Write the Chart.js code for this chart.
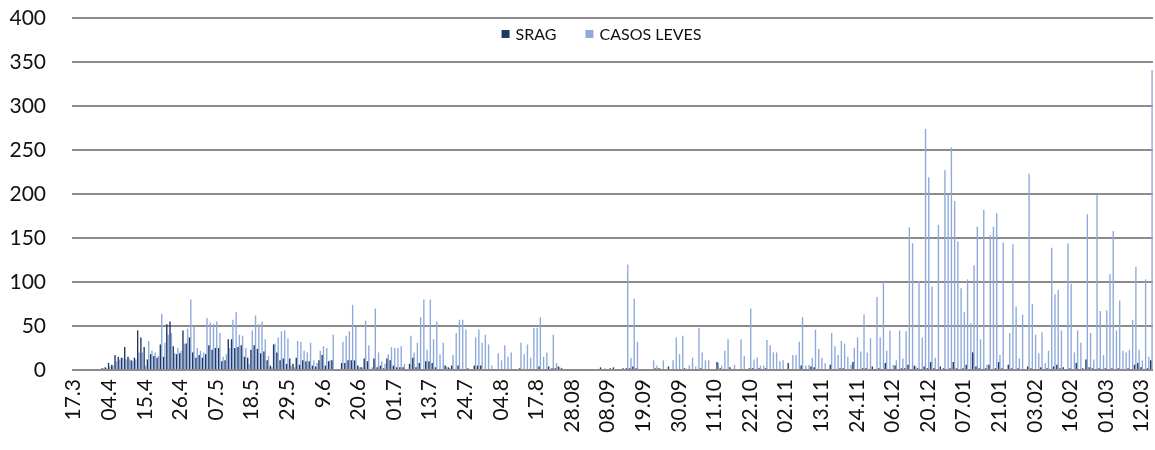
<!DOCTYPE html>
<html>
<head>
<meta charset="utf-8">
<script src="https://cdn.jsdelivr.net/npm/chart.js@4"></script>
<style>
    html, body { margin: 0; padding: 0; background: #fff; }
    #wrap { width: 1155px; height: 450px; }
</style>
</head>
<body>
<div id="wrap"><canvas id="canvas" width="1155" height="450"></canvas></div>
<script>
// tick labels shown every 11 days on the x axis
const tickLabels = ['17.3', '04.4', '15.4', '26.4', '07.5', '18.5', '29.5', '9.6', '20.6', '01.7',
    '13.7', '24.7', '04.8', '17.8', '28.08', '08.09', '19.09', '30.09', '11.10', '22.10',
    '02.11', '13.11', '24.11', '06.12', '20.12', '07.01', '21.01', '03.02', '16.02', '01.03', '12.03'];
const tickEvery = 11;

// daily values
const srag = [
    0, 0, 0, 1, 0, 1, 0, 1, 0, 2, 3,
    8, 6, 17, 15, 14, 26, 15, 11, 14, 45,
    37, 26, 12, 18, 16, 14, 29, 15, 52, 55,
    27, 18, 19, 45, 30, 37, 20, 14, 17, 14,
    18, 28, 23, 25, 25, 10, 11, 35, 35, 25,
    26, 28, 15, 14, 23, 28, 24, 19, 21, 11,
    5, 29, 20, 11, 13, 7, 13, 7, 14, 6,
    11, 10, 10, 5, 4, 11, 17, 5, 10, 11,
    1, 1, 8, 8, 11, 11, 11, 5, 3, 13,
    10, 1, 13, 3, 5, 2, 13, 11, 5, 3,
    3, 3, 0, 7, 14, 3, 8, 1, 10, 10,
    8, 3, 1, 1, 5, 3, 5, 1, 5, 1,
    1, 2, 0, 5, 5, 5, 1, 0, 0, 1,
    1, 1, 1, 1, 1, 0, 0, 2, 0, 0,
    0, 0, 1, 4, 0, 0, 4, 2, 2, 4,
    2, 0, 0, 0, 0, 0, 0, 0, 0, 1,
    0, 0, 3, 0, 1, 2, 3, 0, 0, 2,
    2, 2, 4, 2, 0, 0, 0, 0, 1, 2,
    2, 1, 0, 4, 1, 1, 1, 0, 2, 1,
    1, 0, 1, 2, 1, 0, 0, 0, 9, 2,
    1, 1, 3, 1, 0, 1, 1, 1, 2, 2,
    1, 2, 1, 2, 1, 1, 0, 1, 1, 0,
    8, 1, 1, 1, 5, 1, 1, 4, 3, 1,
    1, 1, 0, 6, 1, 1, 2, 2, 1, 1,
    9, 1, 1, 2, 2, 1, 4, 1, 2, 1,
    8, 1, 1, 5, 1, 2, 2, 6, 1, 5,
    2, 1, 4, 2, 9, 2, 1, 4, 2, 1,
    2, 9, 2, 1, 2, 6, 1, 20, 4, 2,
    1, 2, 6, 1, 2, 9, 2, 1, 6, 2,
    1, 2, 1, 1, 4, 2, 1, 1, 3, 1,
    2, 1, 4, 6, 2, 3, 1, 2, 1, 8,
    1, 2, 12, 3, 2, 1, 2, 1, 2, 1,
    2, 1, 2, 1, 1, 2, 1, 6, 8, 3,
    1, 2, 11
];
const casosLeves = [
    0, 0, 0, 0, 1, 0, 1, 0, 1, 2, 2,
    4, 5, 10, 12, 14, 12, 13, 10, 12, 20,
    20, 5, 33, 22, 20, 16, 64, 31, 40, 42,
    19, 25, 22, 30, 47, 80, 50, 25, 22, 20,
    59, 54, 52, 55, 42, 15, 18, 25, 57, 66,
    40, 39, 25, 7, 45, 62, 52, 55, 35, 16,
    3, 30, 37, 44, 45, 36, 5, 3, 33, 32,
    22, 20, 31, 11, 8, 22, 27, 25, 11, 40,
    1, 0, 32, 39, 44, 74, 49, 3, 3, 56,
    28, 3, 70, 20, 10, 7, 18, 26, 25, 25,
    27, 7, 0, 39, 20, 31, 60, 80, 23, 80,
    35, 55, 18, 31, 4, 2, 17, 42, 57, 57,
    46, 1, 0, 37, 46, 31, 40, 29, 5, 0,
    19, 11, 28, 15, 20, 0, 0, 31, 18, 29,
    14, 48, 48, 60, 15, 20, 0, 40, 8, 3,
    0, 0, 0, 0, 0, 0, 0, 0, 0, 0,
    1, 0, 0, 2, 0, 1, 0, 0, 0, 0,
    120, 14, 81, 32, 0, 0, 0, 0, 11, 5,
    2, 11, 0, 0, 11, 37, 18, 39, 0, 5,
    14, 4, 48, 20, 11, 11, 1, 0, 8, 5,
    22, 35, 0, 6, 0, 35, 16, 0, 70, 12,
    14, 5, 5, 34, 28, 20, 20, 10, 11, 0,
    0, 17, 17, 32, 60, 5, 6, 14, 46, 24,
    14, 8, 0, 42, 27, 17, 33, 30, 15, 6,
    25, 37, 21, 63, 20, 36, 0, 83, 37, 100,
    22, 45, 6, 11, 45, 13, 44, 162, 144, 4,
    101, 37, 274, 219, 95, 14, 165, 0, 227, 200,
    253, 192, 146, 93, 66, 103, 53, 119, 163, 35,
    182, 6, 153, 163, 178, 17, 145, 0, 42, 143,
    72, 13, 63, 0, 223, 75, 40, 19, 43, 8,
    22, 139, 86, 91, 45, 0, 144, 98, 20, 45,
    31, 0, 177, 42, 12, 199, 67, 17, 68, 109,
    158, 45, 79, 22, 20, 23, 57, 117, 23, 11,
    103, 15, 341
];

const yTicks = [0, 50, 100, 150, 200, 250, 300, 350, 400];

function drawBarChart() {
    let font = 'Lato, "Open Sans", sans-serif';

    // one category per day, only every 11th gets a label
    let labels = srag.map((v, i) => (i % tickEvery === 0 ? (tickLabels[i / tickEvery] || '') : ''));

    let data = {
        labels: labels,
        datasets: [{
            label: 'SRAG',
            data: srag,
            backgroundColor: '#1F3864',
            barPercentage: 1,
            categoryPercentage: 0.85
        }, {
            label: 'CASOS LEVES',
            data: casosLeves,
            backgroundColor: '#8EAADB',
            barPercentage: 1,
            categoryPercentage: 0.85
        }]
    };

    // legend sits inside the plot, near the top
    let insideLegend = {
        id: 'insideLegend',
        afterDatasetsDraw(chart) {
            let ctx = chart.ctx;
            let area = chart.chartArea;
            ctx.save();
            ctx.font = '16px ' + font;
            ctx.textBaseline = 'middle';
            let box = 8, gap = 6, space = 29;
            let items = chart.data.datasets.map(d => ({
                text: d.label,
                color: d.backgroundColor,
                w: box + gap + ctx.measureText(d.label).width
            }));
            let total = items.reduce((a, it) => a + it.w, 0) + space * (items.length - 1);
            let x = (area.left + area.right) / 2 - 11 - total / 2;
            let y = area.top + 16;
            items.forEach(it => {
                ctx.fillStyle = it.color;
                ctx.fillRect(x, y - box / 2, box, box);
                ctx.fillStyle = '#111';
                ctx.fillText(it.text, x + box + gap, y + 1);
                x += it.w + space;
            });
            ctx.restore();
        }
    };

    let options = {
        responsive: false,
        animation: false,
        layout: { padding: { top: 18, right: 2, left: 0, bottom: 0 } },
        plugins: {
            legend: { display: false },
            tooltip: { enabled: false }
        },
        scales: {
            x: {
                grid: { display: false, drawTicks: false },
                border: { display: false },
                ticks: {
                    autoSkip: false,
                    maxRotation: 90,
                    minRotation: 90,
                    padding: 9,
                    color: '#111',
                    font: { family: font, size: 21 }
                },
                afterFit: s => {
                    s.height = 80;
                    s.paddingLeft = 0;
                    s.paddingRight = 0;
                }
            },
            y: {
                min: 0,
                max: 400,
                afterBuildTicks: s => { s.ticks = yTicks.map(v => ({ value: v })); },
                grid: { color: '#8c8c8c', lineWidth: 2, drawTicks: false },
                border: { display: false },
                ticks: {
                    padding: 26,
                    color: '#111',
                    font: { family: font, size: 21 }
                },
                afterFit: s => {
                    s.width = 72;
                    s.paddingTop = 0;
                    s.paddingBottom = 0;
                }
            }
        }
    };

    let ctx = document.getElementById('canvas').getContext('2d');

    new Chart(ctx, {
        type: 'bar',
        data: data,
        options: options,
        plugins: [insideLegend]
    });
}

drawBarChart();
</script>
</body>
</html>
